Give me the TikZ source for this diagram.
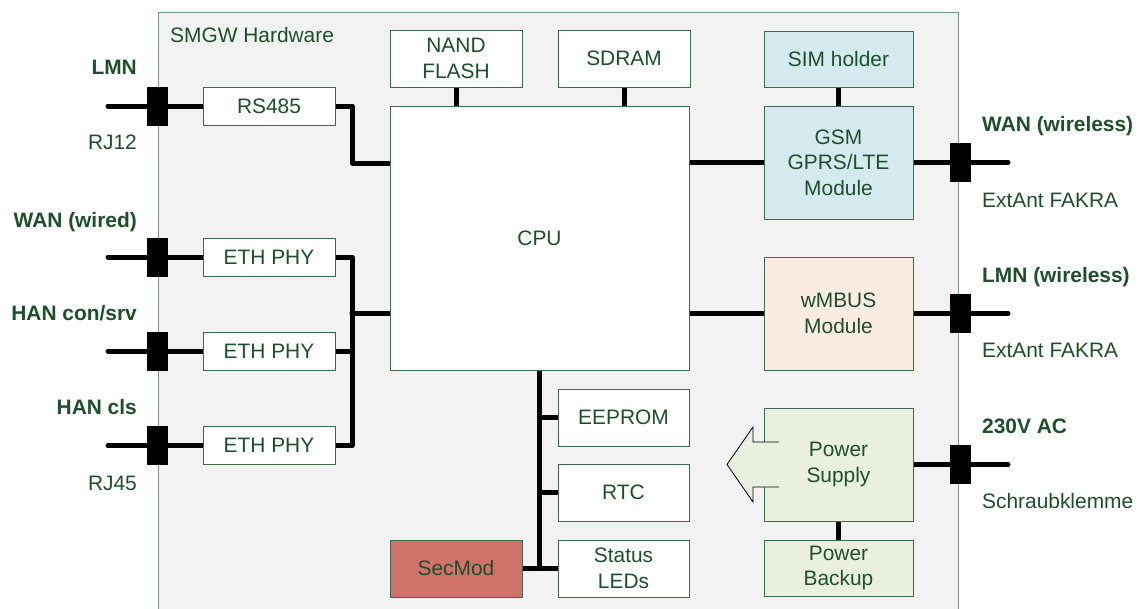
\documentclass[tikz,border=0pt]{standalone}
\usepackage{fontspec}
\setmainfont{Liberation Sans}
\begin{document}
\pgfdeclarelayer{back}
\pgfdeclarelayer{wires}
\pgfsetlayers{back,wires,main}
\definecolor{txt}{RGB}{31,78,45}
\definecolor{bord}{RGB}{62,105,76}
\definecolor{outer}{RGB}{120,152,128}
\definecolor{hwbg}{RGB}{242,242,242}
\definecolor{cyanf}{RGB}{213,234,238}
\definecolor{peachf}{RGB}{251,236,225}
\definecolor{greenf}{RGB}{234,240,223}
\definecolor{redf}{RGB}{206,114,106}
\begin{tikzpicture}[x=1pt,y=-1pt,
  every node/.style={font=\fontsize{20.9}{25.5}\selectfont, text=txt},
  box/.style={draw=bord, line width=0.9pt, fill=white, inner sep=0pt, align=center},
  plug/.style={draw=black, fill=black, minimum width=20pt, minimum height=38pt, inner sep=0pt},
  wire/.style={line width=5pt, line cap=round, line join=round},
  port/.style={font=\fontsize{20.9}{25.5}\selectfont\bfseries, text height=15pt, text depth=0pt, inner sep=0pt},
  portsub/.style={text height=15pt, text depth=0pt, inner sep=0pt}]
\useasboundingbox (0,0) rectangle (1141,608);
\begin{pgfonlayer}{back}
  \fill[hwbg] (158,12) rectangle (958,615);
  \draw[outer, line width=0.9pt] (158,615) -- (158,12) -- (958,12) -- (958,615);
\end{pgfonlayer}
\node[anchor=west, portsub] (title) at (170,35) {SMGW Hardware};

% boxes
\node[box, minimum width=132pt, minimum height=38pt] (rs) at (269,106) {RS485};
\node[box, minimum width=132pt, minimum height=38pt] (eth1) at (269,257) {ETH PHY};
\node[box, minimum width=132pt, minimum height=38pt] (eth2) at (269,351) {ETH PHY};
\node[box, minimum width=132pt, minimum height=38pt] (eth3) at (269,445.5) {ETH PHY};
\node[box, minimum width=132pt, minimum height=57pt] (nand) at (456,58.5) {NAND\\FLASH};
\node[box, minimum width=132pt, minimum height=57pt] (sdram) at (624,58.5) {SDRAM};
\node[box, minimum width=299pt, minimum height=264pt] (cpu) at (539.5,238) {CPU};
\node[box, fill=cyanf, minimum width=149pt, minimum height=56pt] (sim) at (838.5,59) {SIM holder};
\node[box, fill=cyanf, minimum width=149pt, minimum height=113pt] (gsm) at (838.5,162.5) {GSM\\GPRS/LTE\\Module};
\node[box, fill=peachf, minimum width=149pt, minimum height=113pt] (wm) at (838.5,313.5) {wMBUS\\Module};
\node[box, fill=greenf, minimum width=149pt, minimum height=113pt] (ps) at (838.5,464.5) {Power\\Supply};
\node[box, fill=greenf, minimum width=149pt, minimum height=56pt] (pb) at (838.5,568) {Power\\Backup};
\node[box, minimum width=131pt, minimum height=57pt] (eep) at (623.5,417.5) {EEPROM};
\node[box, minimum width=131pt, minimum height=57pt] (rtc) at (623.5,492.5) {RTC};
\node[box, minimum width=131pt, minimum height=57pt] (led) at (623.5,568.5) {Status\\LEDs};
\node[box, fill=redf, minimum width=132pt, minimum height=57pt] (sec) at (456,568.5) {SecMod};

% power arrow
\fill[greenf] (779,442) -- (753,442) -- (753,427) -- (727,464.5) -- (753,502) -- (753,487) -- (779,487) -- cycle;
\draw[black, line width=0.8pt, line join=miter] (779,442) -- (753,442) -- (753,427) -- (727,464.5) -- (753,502) -- (753,487) -- (779,487);

% plugs
\node[plug] (p1) at (157,106) {};
\node[plug] (p2) at (157,257) {};
\node[plug] (p3) at (157,351) {};
\node[plug] (p4) at (157,445.5) {};
\node[plug] (p5) at (960,162.5) {};
\node[plug] (p6) at (960,313.5) {};
\node[plug] (p7) at (960,464.5) {};

\coordinate (e1) at (108,106);
\coordinate (e2) at (108,257);
\coordinate (e3) at (108,351);
\coordinate (e4) at (108,445.5);
\coordinate (e5) at (1008,162.5);
\coordinate (e6) at (1008,313.5);
\coordinate (e7) at (1008,464.5);
\coordinate (j1) at (352,163);
\coordinate (bus) at (352,313);

\begin{pgfonlayer}{wires}
  \draw[wire] (e1) -- (rs.west);
  \draw[wire] (e2) -- (eth1.west);
  \draw[wire] (e3) -- (eth2.west);
  \draw[wire] (e4) -- (eth3.west);
  \draw[wire] (e5) -- (gsm.east);
  \draw[wire] (e6) -- (wm.east);
  \draw[wire] (e7) -- (ps.east);
  \draw[wire] (rs.east) -| (j1) -- (j1 -| cpu.west);
  \draw[wire] (eth1.east) -- (eth1.east -| bus) -- (eth3.east -| bus) -- (eth3.east);
  \draw[wire] (eth2.east) -- (eth2.east -| bus);
  \draw[wire] (bus) -- (bus -| cpu.west);
  \draw[wire, line cap=butt] (nand.south) -- (nand.south |- cpu.north);
  \draw[wire, line cap=butt] (sdram.south) -- (sdram.south |- cpu.north);
  \draw[wire, line cap=butt] (sim.south) -- (gsm.north);
  \draw[wire, line cap=butt] (ps.south) -- (pb.north);
  \draw[wire] (cpu.east |- gsm.west) -- (gsm.west);
  \draw[wire] (cpu.east |- wm.west) -- (wm.west);
  \draw[wire] (cpu.south) -- (cpu.south |- led.west);
  \draw[wire] (eep.west -| cpu.south) -- (eep.west);
  \draw[wire] (rtc.west -| cpu.south) -- (rtc.west);
  \draw[wire] (sec.east) -- (led.west);
\end{pgfonlayer}

% port labels
\node[port, anchor=east] (l1) at (137,67) {LMN};
\node[portsub, anchor=east] (s1) at (137,142) {RJ12};
\node[port, anchor=east] (l2) at (137,220) {WAN (wired)};
\node[port, anchor=east] (l3) at (137,313) {HAN con/srv};
\node[port, anchor=east] (l4) at (137,407) {HAN cls};
\node[portsub, anchor=east] (s4) at (137,483) {RJ45};
\node[port, anchor=west] (l5) at (982,124) {WAN (wireless)};
\node[portsub, anchor=west] (s5) at (982,200) {ExtAnt FAKRA};
\node[port, anchor=west] (l6) at (982,275) {LMN (wireless)};
\node[portsub, anchor=west] (s6) at (982,350) {ExtAnt FAKRA};
\node[port, anchor=west] (l7) at (982,426) {230V AC};
\node[portsub, anchor=west] (s7) at (982,501) {Schraubklemme};
\end{tikzpicture}
\end{document}
